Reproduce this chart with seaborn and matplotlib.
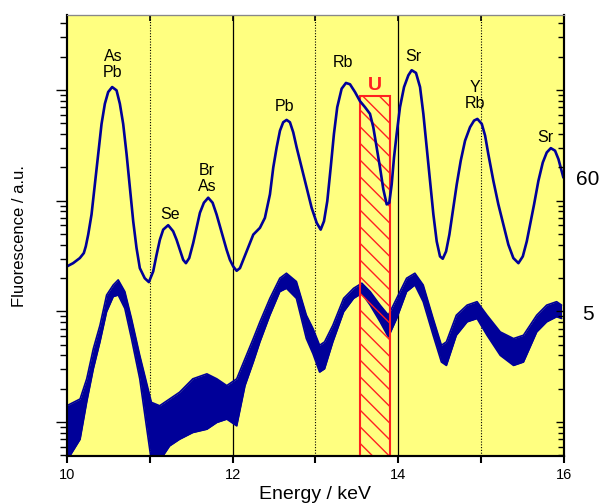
import numpy as np
import pandas as pd
import matplotlib
matplotlib.use("Agg")
import matplotlib.pyplot as plt
import matplotlib.ticker as mticker
from matplotlib.patches import Rectangle
import seaborn as sns

# =========================================
# DATA (log10 of fluorescence)
# =========================================

energy_top = [10.000, 10.076, 10.157, 10.205, 10.229, 10.258, 10.298, 10.338, 10.378, 10.419,
              10.459, 10.499, 10.547, 10.600, 10.640, 10.680, 10.721, 10.761, 10.801, 10.841,
              10.881, 10.940, 10.990, 11.042, 11.083, 11.123, 11.163, 11.223, 11.283, 11.324,
              11.364, 11.404, 11.437, 11.477, 11.525, 11.566, 11.606, 11.654, 11.706, 11.759,
              11.807, 11.847, 11.887, 11.928, 11.968, 12.008, 12.049, 12.089, 12.169, 12.250,
              12.330, 12.390, 12.451, 12.491, 12.532, 12.572, 12.611, 12.652, 12.692, 12.732,
              12.773, 12.833, 12.894, 12.954, 13.015, 13.063, 13.103, 13.143, 13.184, 13.223,
              13.263, 13.316, 13.368, 13.417, 13.477, 13.537, 13.598, 13.658, 13.698, 13.739,
              13.779, 13.819, 13.860, 13.891, 13.920, 13.948, 13.980, 14.020, 14.069, 14.121,
              14.161, 14.213, 14.262, 14.302, 14.342, 14.382, 14.423, 14.463, 14.503, 14.536,
              14.576, 14.616, 14.664, 14.705, 14.753, 14.805, 14.865, 14.914, 14.954, 15.007,
              15.047, 15.086, 15.147, 15.207, 15.267, 15.328, 15.388, 15.449, 15.502, 15.550,
              15.590, 15.638, 15.690, 15.743, 15.791, 15.840, 15.891, 15.932, 15.992]
log_top = [1.406, 1.436, 1.482, 1.527, 1.588, 1.694, 1.875, 2.148, 2.421, 2.694,
           2.876, 2.982, 3.027, 2.997, 2.876, 2.694, 2.421, 2.118, 1.815, 1.573,
           1.391, 1.300, 1.265, 1.361, 1.512, 1.648, 1.739, 1.779, 1.724, 1.648,
           1.557, 1.466, 1.436, 1.482, 1.618, 1.755, 1.891, 1.982, 2.027, 1.982,
           1.876, 1.770, 1.664, 1.557, 1.466, 1.406, 1.367, 1.391, 1.542, 1.694,
           1.755, 1.845, 2.058, 2.300, 2.482, 2.633, 2.709, 2.730, 2.709, 2.618,
           2.482, 2.300, 2.118, 1.936, 1.800, 1.739, 1.815, 1.997, 2.300, 2.603,
           2.845, 3.012, 3.064, 3.052, 2.982, 2.900, 2.845, 2.785, 2.664, 2.482,
           2.300, 2.103, 1.967, 1.982, 2.148, 2.391, 2.603, 2.845, 3.027, 3.133,
           3.179, 3.155, 3.027, 2.785, 2.482, 2.179, 1.876, 1.633, 1.497, 1.476,
           1.542, 1.694, 1.936, 2.148, 2.361, 2.542, 2.664, 2.724, 2.739, 2.694,
           2.588, 2.421, 2.179, 1.967, 1.785, 1.603, 1.482, 1.436, 1.497, 1.633,
           1.785, 1.967, 2.179, 2.345, 2.436, 2.475, 2.452, 2.376, 2.209]

energy_low = [10.00, 10.16, 10.24, 10.32, 10.40, 10.48, 10.56, 10.62, 10.70, 10.78,
              10.88, 10.96, 11.02, 11.12, 11.24, 11.36, 11.52, 11.69, 11.81, 11.93,
              12.05, 12.15, 12.25, 12.33, 12.45, 12.57, 12.65, 12.77, 12.89, 12.97,
              13.05, 13.11, 13.21, 13.34, 13.46, 13.56, 13.66, 13.78, 13.88, 13.98,
              14.10, 14.20, 14.30, 14.42, 14.52, 14.58, 14.70, 14.83, 14.95, 15.07,
              15.23, 15.39, 15.51, 15.67, 15.79, 15.91, 15.97]
log_low_upper = [0.148, 0.209, 0.391, 0.664, 0.875, 1.148, 1.239, 1.285, 1.179, 0.936,
                 0.603, 0.361, 0.179, 0.148, 0.209, 0.270, 0.391, 0.436, 0.391, 0.330,
                 0.391, 0.573, 0.755, 0.906, 1.118, 1.300, 1.345, 1.270, 0.966, 0.845,
                 0.694, 0.725, 0.875, 1.118, 1.209, 1.255, 1.179, 1.057, 0.966, 1.118,
                 1.300, 1.345, 1.239, 0.936, 0.694, 0.725, 0.966, 1.057, 1.088, 0.966,
                 0.815, 0.755, 0.785, 0.966, 1.057, 1.088, 1.057]
log_low_lower = [-0.35, -0.155, 0.182, 0.482, 0.725, 0.997, 1.134, 1.148, 1.027, 0.755,
                 0.391, -0.034, -0.35, -0.35, -0.215, -0.155, -0.094, -0.064, -0.003, 0.027,
                 -0.034, 0.330, 0.543, 0.725, 0.966, 1.179, 1.209, 1.118, 0.755, 0.618,
                 0.452, 0.482, 0.725, 0.997, 1.118, 1.164, 1.057, 0.906, 0.770, 0.936,
                 1.179, 1.239, 1.088, 0.785, 0.543, 0.512, 0.785, 0.906, 0.936, 0.785,
                 0.603, 0.512, 0.543, 0.815, 0.906, 0.952, 0.936]

# peak labels: text, energy, log10 height
peak_labels = ["As\nPb", "Se", "Br\nAs", "Pb", "Rb", "Sr", "Y\nRb", "Sr"]
peak_energy = [10.555, 11.24, 11.69, 12.63, 13.33, 14.18, 14.93, 15.77]
peak_log = [3.23, 1.88, 2.20, 2.85, 3.25, 3.30, 2.95, 2.57]

# uranium window
u_start, u_end, u_log_top = 13.54, 13.90, 2.945

# scale factors written at the right
scale_labels = ["60", "5"]
scale_log = [2.19, 0.97]

# =========================================
# PLOT
# =========================================

sns.set_style("ticks")
plt.rcParams['font.family'] = ['Liberation Sans', 'DejaVu Sans']
plt.rcParams['hatch.linewidth'] = 1.0
for key in ['text.color', 'axes.labelcolor', 'xtick.color', 'ytick.color']:
    plt.rcParams[key] = 'black'

blue = "#000099"
red = "#FF2020"
ylim = (0.493, 4750)
df_top = pd.DataFrame({"energy": energy_top, "fluo": 10 ** np.array(log_top)})

fig = plt.figure(figsize=(6.02, 5.04), dpi=100)
ax = fig.add_axes([0.111, 0.095, 0.826, 0.875])
ax.set_facecolor("#FFFF80")
ax.set_yscale("log")

for xv in [11, 13, 15]:
    ax.axvline(xv, color="black", lw=0.8, ls=(0, (1, 1.5)), zorder=1)
for xv in [12, 14]:
    ax.axvline(xv, color="black", lw=0.9, zorder=1)

up = 10 ** np.array(log_low_upper)
lo = 10 ** np.array(log_low_lower)
ax.fill_between(energy_low, lo, up, color=blue, lw=0, zorder=2)
ax.plot(energy_low, up, color=blue, lw=1.2, zorder=2)
ax.plot(energy_low, lo, color=blue, lw=1.2, zorder=2)

rect = Rectangle((u_start, 0.3), u_end - u_start, 10 ** u_log_top - 0.3,
                 facecolor="none", edgecolor=red, hatch="\\\\", lw=1.5, zorder=3)
ax.add_patch(rect)
ax.text((u_start + u_end) / 2, 10 ** (u_log_top + 0.1), "U", color=red,
        fontsize=14, fontweight="bold", ha="center", va="center")

sns.lineplot(data=df_top, x="energy", y="fluo", color=blue, lw=1.9, ax=ax, zorder=4)

for lab, xe, yl in zip(peak_labels, peak_energy, peak_log):
    ax.text(xe, 10 ** yl, lab, ha="center", va="center", fontsize=11.5,
            linespacing=1.1, zorder=5)

for lab, yl in zip(scale_labels, scale_log):
    ax.text(16.29, 10 ** yl, lab, ha="center", va="center", fontsize=15,
            clip_on=False)

ax.set_xlim(10, 16)
ax.set_ylim(*ylim)

ax.xaxis.set_major_locator(mticker.FixedLocator([10, 11, 12, 13, 14, 15, 16]))
ax.set_xticklabels(["10", "", "12", "", "14", "", "16"], fontsize=10.5)
ax.yaxis.set_major_locator(mticker.LogLocator(base=10))
ax.yaxis.set_minor_locator(mticker.LogLocator(base=10, subs=np.arange(2, 10)))
ax.yaxis.set_major_formatter(mticker.NullFormatter())
ax.yaxis.set_minor_formatter(mticker.NullFormatter())

ax.tick_params(axis="x", direction="out", length=5, width=1.5)
ax.tick_params(axis="y", which="major", direction="out", length=8, width=1)
ax.tick_params(axis="y", which="minor", direction="out", length=5, width=1)

# inward ticks on the right and top
ax_r = ax.twinx()
ax_r.set_yscale("log")
ax_r.set_ylim(*ylim)
ax_r.yaxis.set_major_locator(mticker.LogLocator(base=10))
ax_r.yaxis.set_minor_locator(mticker.LogLocator(base=10, subs=np.arange(2, 10)))
ax_r.yaxis.set_major_formatter(mticker.NullFormatter())
ax_r.yaxis.set_minor_formatter(mticker.NullFormatter())
ax_r.tick_params(axis="y", which="major", direction="in", length=6, width=1)
ax_r.tick_params(axis="y", which="minor", direction="in", length=4, width=1)

ax_t = ax.secondary_xaxis("top")
ax_t.set_xticks([10, 11, 12, 13, 14, 15, 16])
ax_t.set_xticklabels([])
ax_t.tick_params(direction="in", length=4, width=1.2)
ax_t.spines["top"].set_color("#888888")

for a in [ax, ax_r]:
    for side in ["left", "bottom", "right"]:
        a.spines[side].set_linewidth(1.5)
        a.spines[side].set_color("black")
    a.spines["top"].set_color("#888888")

ax.set_xlabel("Energy / keV", fontsize=14, labelpad=3)
ax.set_ylabel("Fluorescence / a.u.", fontsize=12, labelpad=17)

plt.savefig("out.png", dpi=100)
